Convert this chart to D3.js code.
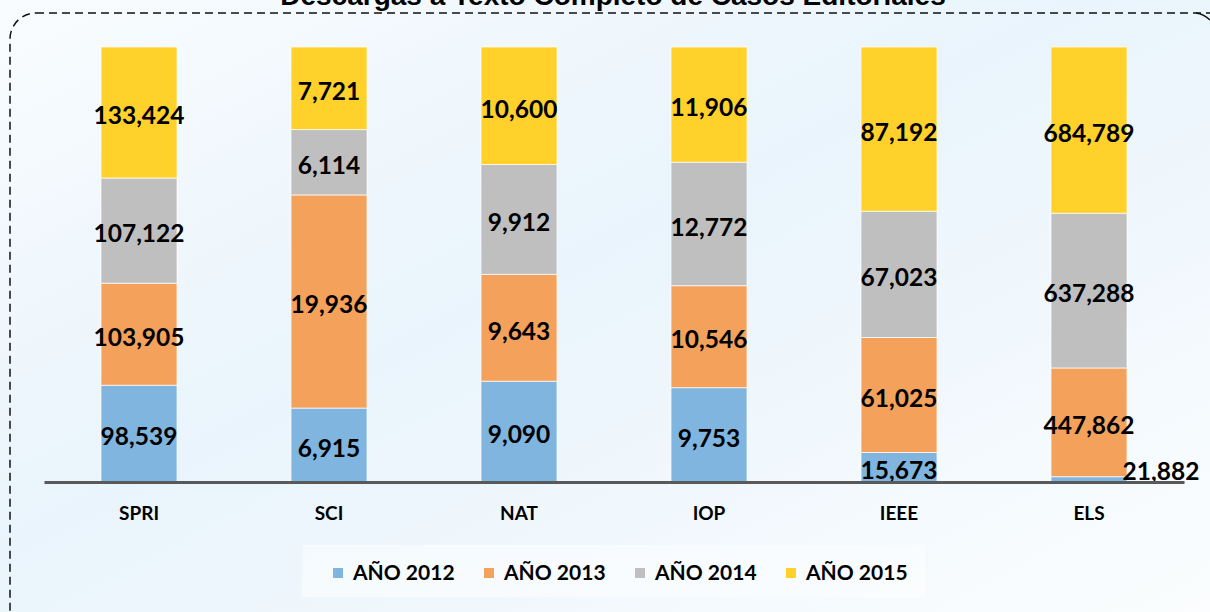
<!DOCTYPE html>
<html>
<head>
<meta charset="utf-8">
<script src="https://cdn.jsdelivr.net/npm/d3@7"></script>
<style>
  body { margin: 0; }
  svg { display: block; }
</style>
</head>
<body>
<script>
// data
var categories = ["SPRI", "SCI", "NAT", "IOP", "IEEE", "ELS"];
var years = ["AÑO 2012", "AÑO 2013", "AÑO 2014", "AÑO 2015"];
var y2012 = [98539, 6915, 9090, 9753, 15673, 21882];
var y2013 = [103905, 19936, 9643, 10546, 61025, 447862];
var y2014 = [107122, 6114, 9912, 12772, 67023, 637288];
var y2015 = [133424, 7721, 10600, 11906, 87192, 684789];
var colors = ["#7fb5df", "#f4a15b", "#bfbfbf", "#ffd12a"];

var W = 1210, H = 612;
var margin = { top: 47, right: 26, bottom: 130, left: 44 },
    width = W - margin.left - margin.right,
    height = H - margin.top - margin.bottom;

var svg = d3.select("body").append("svg")
    .attr("width", W)
    .attr("height", H);

// background
var defs = svg.append("defs");
var grad = defs.append("linearGradient").attr("id", "bg")
    .attr("x1", "0").attr("y1", "0").attr("x2", "1").attr("y2", "1");
grad.append("stop").attr("offset", "0").attr("stop-color", "#f9fcfe");
grad.append("stop").attr("offset", "0.45").attr("stop-color", "#e9f4fc");
grad.append("stop").attr("offset", "1").attr("stop-color", "#fbfdfe");
svg.append("rect").attr("width", W).attr("height", H).attr("fill", "url(#bg)");

// dashed frame
svg.append("rect")
    .attr("x", 10).attr("y", 13)
    .attr("width", W + 40).attr("height", H + 40)
    .attr("rx", 26).attr("ry", 26)
    .attr("fill", "none")
    .attr("stroke", "#111")
    .attr("stroke-width", 1.5)
    .attr("stroke-dasharray", "8,5");
// right top corner of the frame peeking in
svg.append("path")
    .attr("d", "M1196,13 Q1204,14 1210,20")
    .attr("fill", "none").attr("stroke", "#111").attr("stroke-width", 1.5);

// title (cut by the top edge, as in the original)
svg.append("text")
    .attr("x", 613).attr("y", 5)
    .attr("text-anchor", "middle")
    .style("font-family", "'Liberation Sans', Arial, sans-serif")
    .style("font-weight", "bold")
    .style("font-size", "28px")
    .text("Descargas a Texto Completo de Casos Editoriales");

var g = svg.append("g")
    .attr("transform", "translate(" + margin.left + "," + margin.top + ")");

var table = categories.map(function(c, i) {
  return { cat: c, 0: y2012[i], 1: y2013[i], 2: y2014[i], 3: y2015[i] };
});

var stack = d3.stack().keys([0, 1, 2, 3]).offset(d3.stackOffsetExpand);
var series = stack(table);

var x = d3.scaleBand()
    .domain(categories)
    .range([0, width])
    .paddingInner(0.6)
    .paddingOuter(0.3);

var y = d3.scaleLinear().domain([0, 1]).range([height, 0]);

var layer = g.selectAll(".layer")
    .data(series)
    .enter().append("g")
    .attr("class", "layer")
    .attr("fill", function(d, i) { return colors[i]; });

layer.selectAll("rect")
    .data(function(d) { return d; })
    .enter().append("rect")
    .attr("x", function(d) { return x(d.data.cat); })
    .attr("y", function(d) { return y(d[1]); })
    .attr("width", x.bandwidth())
    .attr("height", function(d) { return y(d[0]) - y(d[1]); })
    .attr("stroke", "#fff")
    .attr("stroke-opacity", 0.7)
    .attr("stroke-width", 1);

// value labels
series.forEach(function(s, si) {
  s.forEach(function(d) {
    var h = y(d[0]) - y(d[1]);
    var cx = x(d.data.cat) + x.bandwidth() / 2;
    var cy = (y(d[0]) + y(d[1])) / 2 + 3;
    // too thin to hold its label: put it beside the bar
    if (h < 15) { cx = x(d.data.cat) + x.bandwidth() + 34; cy = y(d[0]) - 11; }
    g.append("text")
      .attr("x", cx)
      .attr("y", cy)
      .attr("dy", "0.36em")
      .attr("text-anchor", "middle")
      .style("font-family", "Lato, 'Open Sans', sans-serif")
      .style("font-weight", "bold")
      .style("font-size", "24.5px")
      .attr("fill", "#000")
      .text(d3.format(",")(d.data[s.key]));
  });
});

// x axis
var xAxis = g.append("g")
    .attr("transform", "translate(0," + height + ")")
    .call(d3.axisBottom(x).tickSize(0).tickPadding(25));
xAxis.select(".domain").attr("stroke", "#595959").attr("stroke-width", 3);
xAxis.selectAll("text")
    .style("font-family", "Lato, 'Open Sans', sans-serif")
    .style("font-weight", "bold")
    .style("font-size", "19px")
    .attr("fill", "#000");

// legend
var legend = svg.append("g").attr("transform", "translate(302,545)");
legend.append("rect")
    .attr("width", 623).attr("height", 52)
    .attr("fill", "#fff").attr("fill-opacity", 0.45);
var item = legend.selectAll(".item")
    .data(years)
    .enter().append("g")
    .attr("class", "item")
    .attr("transform", function(d, i) { return "translate(" + (31 + i * 151) + ",28)"; });
item.append("rect")
    .attr("x", 0).attr("y", -5)
    .attr("width", 10).attr("height", 10)
    .attr("fill", function(d, i) { return colors[i]; });
item.append("text")
    .attr("x", 20).attr("dy", "0.35em")
    .style("font-family", "Lato, 'Open Sans', sans-serif")
    .style("font-weight", "bold")
    .style("font-size", "21px")
    .text(function(d) { return d; });
</script>
</body>
</html>
